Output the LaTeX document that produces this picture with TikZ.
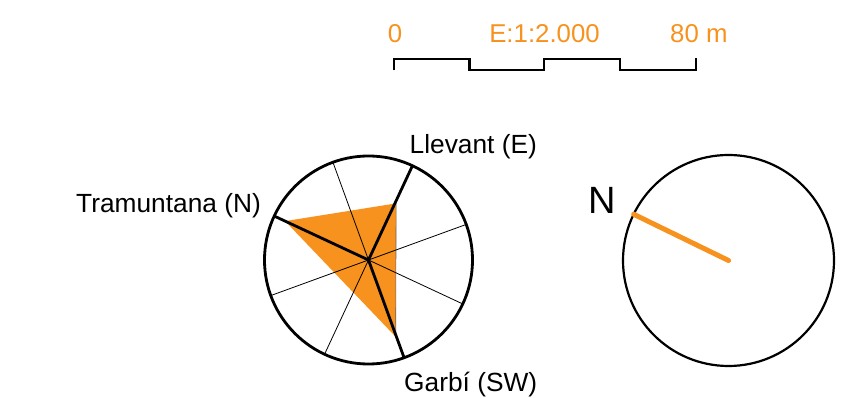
\documentclass[tikz,border=0pt]{standalone}
\usepackage{fontspec}
\setmainfont{Liberation Sans}
\definecolor{rosa}{RGB}{247,146,30}
\tikzset{
  lbl/.style={inner sep=0pt, font=\fontsize{26.3}{30}\selectfont},
  scl/.style={inner sep=0pt, text=rosa, font=\fontsize{25.8}{30}\selectfont},
  thinspoke/.style={line width=0.8pt, black},
  thickspoke/.style={line width=2.8pt, black},
  rim/.style={line width=2.8pt, black},
}
\begin{document}
\begin{tikzpicture}[x=1pt,y=1pt]
\useasboundingbox (0,0) rectangle (846,398);
% scale bar
\draw[line width=2.4pt] (394,327.5) -- (394,339) -- (469.5,339) -- (469.5,328) -- (544,328) -- (544,339) -- (620,339) -- (620,328) -- (696,328) -- (696,340);
\node[scl, anchor=base] (s0) at (395,355) {0};
\node[scl, anchor=base] (s1) at (544.5,355) {E:1:2.000};
\node[scl, anchor=base west] (s2) at (670,355) {80 m};
% left rose
\begin{scope}[shift={(368.5,138)}]
  \coordinate (c) at (0,0);
  \fill[rosa] (155:92) -- (64:63) -- (-70.5:81.5) -- cycle;
  \draw[line width=0.6pt, black!60] (64:63) -- (-70.5:81.5);
  \foreach \a in {155,110,65,20} {
    \draw[thinspoke] (\a:104) -- (\a+180:104);
  }
  \draw[thickspoke] (c) -- (155:104);
  \draw[thickspoke] (c) -- (65:104);
  \draw[thickspoke] (c) -- (-70:104);
  \draw[rim] (c) circle (104);
\end{scope}
\node[lbl, anchor=base west] (tn) at (76,185.3) {Tramuntana (N)};
\node[lbl, anchor=base west] (ll) at (409.5,244) {Llevant (E)};
\node[lbl, anchor=base west] (gb) at (404,6.5) {Garbí (SW)};
% right dial
\begin{scope}[shift={(728.5,137.5)}]
  \coordinate (c2) at (0,0);
  \draw[line width=2.2pt] (c2) circle (105.5);
  \draw[rosa, line width=5pt, line cap=round] (c2) -- (154:105.5);
\end{scope}
\node[inner sep=0pt, anchor=base, font=\fontsize{38}{44}\selectfont] (nn) at (602.5,184.7) {N};
\end{tikzpicture}
\end{document}
